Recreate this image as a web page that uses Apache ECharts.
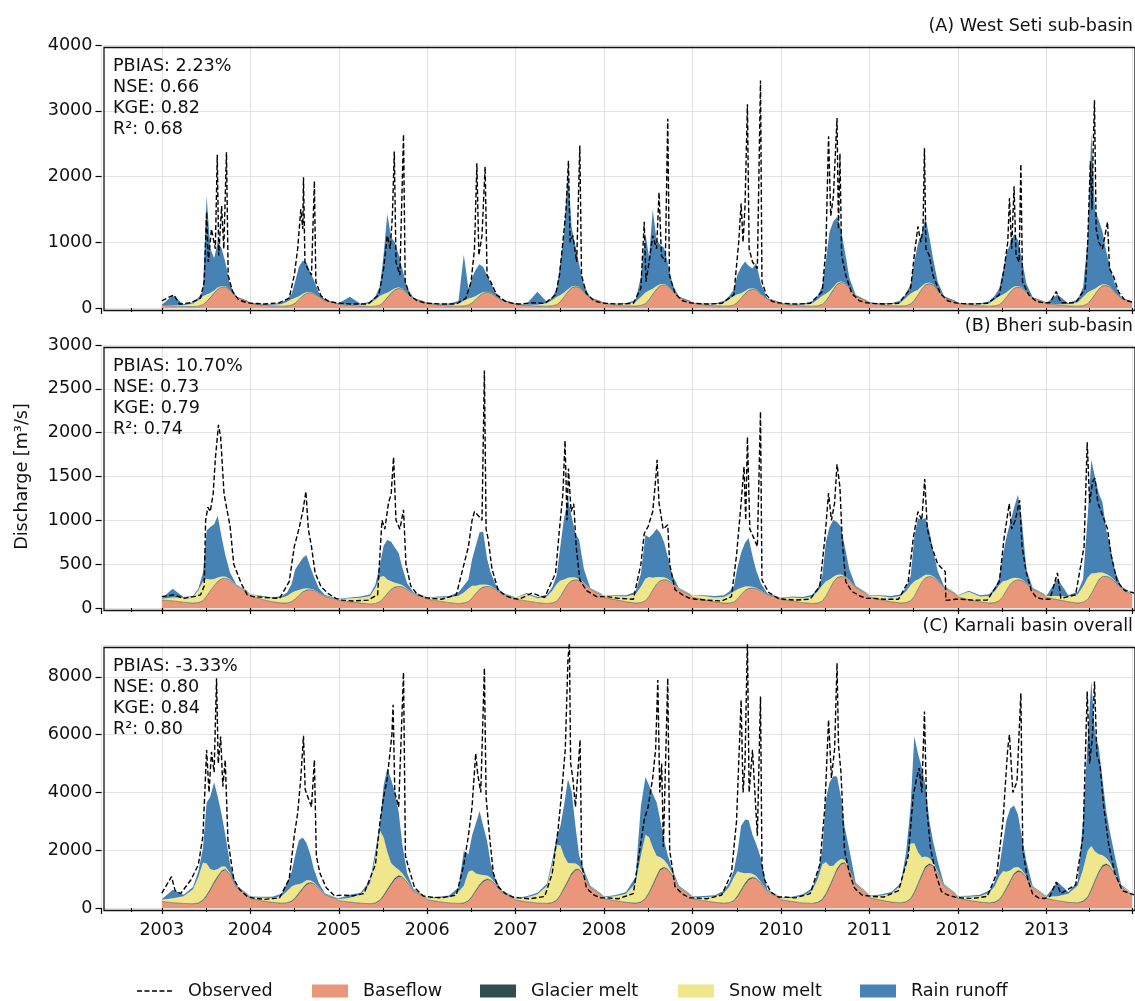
<!DOCTYPE html>
<html>
<head>
<meta charset="utf-8">
<script src="https://cdn.jsdelivr.net/npm/echarts@6/dist/echarts.min.js"></script>
<style>
  html, body { margin: 0; padding: 0; background: #fff; }
  #chart { width: 1135px; height: 1001px; }
</style>
</head>
<body>
<div id="chart"></div>
<script>
// sample dates within each year (components share them so they stack by index)
const YEARS = [2003, 2004, 2005, 2006, 2007, 2008, 2009, 2010, 2011, 2012, 2013];
const GRID_DAYS = ['01-01', '02-15', '04-01', '05-10', '06-01', '06-20', '07-05', '07-20',
    '08-05', '08-20', '09-05', '09-20', '10-10', '11-05', '12-20'];

// ---- (A) West Seti ----
const A_BASE = [
    [40, 30, 22, 20, 25, 45, 90, 150, 220, 280, 315, 320, 270, 160, 100],
    [70, 45, 30, 25, 28, 40, 70, 120, 180, 220, 228, 215, 170, 110, 75],
    [55, 40, 28, 22, 25, 40, 85, 150, 220, 270, 294, 285, 220, 140, 90],
    [65, 45, 30, 25, 28, 40, 70, 120, 180, 220, 233, 225, 180, 115, 75],
    [55, 40, 28, 25, 30, 45, 90, 160, 240, 300, 320, 310, 240, 150, 95],
    [65, 45, 30, 28, 35, 60, 120, 200, 280, 330, 345, 330, 260, 160, 100],
    [70, 48, 32, 26, 28, 40, 80, 140, 210, 260, 279, 270, 210, 135, 90],
    [60, 42, 30, 25, 30, 50, 100, 180, 270, 350, 385, 375, 300, 180, 110],
    [75, 50, 32, 28, 32, 55, 110, 190, 280, 345, 365, 350, 270, 165, 100],
    [70, 48, 32, 26, 30, 45, 90, 160, 240, 295, 314, 305, 240, 150, 95],
    [65, 45, 30, 26, 32, 60, 120, 200, 280, 330, 335, 315, 240, 145, 90]
];
const A_GLACIER = [
    [1, 1, 1, 2, 3, 5, 7, 8, 8, 7, 5, 3, 2, 1, 1],
    [1, 1, 1, 2, 3, 4, 6, 7, 7, 6, 4, 3, 2, 1, 1],
    [1, 1, 1, 2, 3, 5, 7, 8, 8, 7, 5, 3, 2, 1, 1],
    [1, 1, 1, 2, 3, 5, 6, 7, 7, 6, 5, 3, 2, 1, 1],
    [1, 1, 1, 2, 3, 5, 7, 9, 9, 8, 6, 4, 2, 1, 1],
    [1, 1, 1, 2, 4, 6, 8, 9, 9, 8, 6, 4, 2, 1, 1],
    [1, 1, 1, 2, 4, 6, 8, 9, 9, 8, 6, 4, 2, 1, 1],
    [1, 1, 1, 2, 3, 5, 7, 9, 10, 9, 7, 4, 2, 1, 1],
    [1, 1, 1, 2, 3, 5, 7, 9, 9, 8, 6, 4, 2, 1, 1],
    [1, 1, 1, 2, 3, 5, 7, 8, 8, 7, 5, 3, 2, 1, 1],
    [1, 1, 1, 2, 4, 6, 8, 9, 9, 8, 6, 4, 2, 1, 1]
];
const A_SNOW = [
    [5, 10, 20, 45, 90, 130, 110, 70, 40, 25, 15, 10, 5, 3, 3],
    [4, 8, 15, 35, 65, 90, 80, 50, 30, 18, 10, 6, 4, 3, 3],
    [5, 10, 20, 50, 100, 140, 120, 75, 40, 25, 15, 10, 5, 3, 3],
    [4, 8, 18, 40, 80, 100, 85, 55, 30, 18, 10, 6, 4, 3, 3],
    [5, 10, 20, 45, 90, 120, 100, 65, 35, 20, 12, 8, 4, 3, 3],
    [5, 10, 25, 60, 130, 170, 140, 85, 45, 25, 15, 10, 5, 3, 3],
    [5, 10, 20, 50, 100, 140, 120, 75, 40, 25, 15, 10, 5, 3, 3],
    [5, 10, 20, 45, 95, 130, 110, 70, 40, 25, 15, 10, 5, 3, 3],
    [5, 10, 25, 55, 120, 160, 135, 80, 45, 25, 15, 10, 5, 3, 3],
    [5, 10, 20, 45, 95, 130, 110, 70, 40, 25, 15, 10, 5, 3, 3],
    [5, 10, 25, 60, 130, 170, 140, 85, 45, 25, 15, 10, 5, 3, 3]
];
const A_RAIN = [
    [5, 150, 15, 20, 40, 80, 1500, 680, 490, 700, 570, 370, 75, 10, 5],
    [5, 10, 10, 20, 40, 80, 250, 450, 500, 450, 300, 200, 60, 10, 5],
    [10, 120, 15, 20, 50, 150, 600, 1200, 800, 700, 500, 300, 80, 10, 5],
    [5, 10, 20, 40, 700, 150, 300, 400, 450, 380, 250, 150, 50, 10, 5],
    [5, 10, 200, 20, 40, 120, 500, 900, 1800, 900, 600, 350, 100, 10, 5],
    [5, 10, 15, 30, 300, 900, 500, 1200, 700, 600, 550, 350, 90, 10, 5],
    [5, 10, 15, 30, 50, 100, 300, 400, 450, 350, 300, 400, 150, 10, 5],
    [5, 10, 15, 30, 60, 150, 500, 900, 1000, 1000, 800, 500, 150, 15, 5],
    [5, 10, 15, 30, 60, 150, 450, 700, 800, 1000, 700, 400, 120, 10, 5],
    [5, 10, 15, 30, 60, 120, 350, 600, 700, 800, 700, 450, 120, 10, 5],
    [10, 150, 15, 40, 150, 800, 2400, 1200, 1000, 800, 500, 300, 120, 15, 5]
];
const A_OBS = [
    [['01-01', 110], ['02-20', 200], ['03-15', 60], ['05-01', 80], ['06-10', 150], ['06-25', 400], ['07-05', 1460], ['07-12', 700], ['07-25', 1200], ['08-10', 900], ['08-18', 2330], ['08-24', 800], ['09-05', 1550], ['09-14', 900], ['09-25', 2370], ['10-02', 500], ['10-20', 250], ['11-15', 120], ['12-20', 80]],
    [['01-15', 70], ['03-01', 60], ['05-01', 80], ['06-10', 150], ['07-01', 500], ['07-15', 900], ['07-28', 1500], ['08-05', 1200], ['08-08', 1990], ['08-14', 700], ['08-25', 600], ['09-10', 500], ['09-22', 1930], ['09-28', 400], ['10-20', 180], ['11-20', 100], ['12-20', 80]],
    [['01-15', 70], ['03-01', 60], ['05-01', 60], ['06-15', 200], ['07-05', 600], ['07-20', 1100], ['08-01', 900], ['08-10', 1400], ['08-18', 2380], ['08-25', 700], ['09-10', 500], ['09-25', 2640], ['10-02', 400], ['10-20', 200], ['11-20', 110], ['12-20', 80]],
    [['01-15', 70], ['03-01', 60], ['05-01', 60], ['06-10', 150], ['07-01', 400], ['07-15', 900], ['07-25', 2200], ['08-02', 800], ['08-15', 1100], ['08-28', 2150], ['09-05', 500], ['09-20', 400], ['10-15', 200], ['11-20', 100], ['12-20', 70]],
    [['01-15', 60], ['03-10', 80], ['05-01', 70], ['06-15', 200], ['07-01', 500], ['07-15', 1000], ['07-28', 1500], ['08-07', 2240], ['08-14', 1000], ['08-25', 1100], ['09-10', 700], ['09-23', 2470], ['09-30', 500], ['10-20', 220], ['11-20', 110], ['12-20', 80]],
    [['01-15', 70], ['03-01', 60], ['05-01', 70], ['06-01', 300], ['06-15', 1310], ['06-22', 400], ['07-05', 700], ['07-20', 1100], ['08-05', 900], ['08-15', 1760], ['08-25', 800], ['09-10', 700], ['09-20', 2880], ['09-27', 500], ['10-20', 220], ['11-20', 110], ['12-20', 80]],
    [['01-15', 70], ['03-01', 60], ['05-01', 70], ['06-20', 200], ['07-10', 1000], ['07-20', 1590], ['07-28', 1000], ['08-05', 1540], ['08-15', 3100], ['08-22', 900], ['09-05', 700], ['09-25', 600], ['10-08', 3460], ['10-14', 400], ['11-01', 200], ['11-25', 100], ['12-20', 80]],
    [['01-15', 70], ['03-01', 60], ['05-01', 70], ['06-20', 250], ['07-05', 900], ['07-16', 2610], ['07-25', 1400], ['08-05', 1700], ['08-20', 2890], ['08-26', 1200], ['09-01', 2350], ['09-08', 800], ['09-25', 500], ['10-20', 220], ['11-20', 110], ['12-20', 80]],
    [['01-15', 70], ['03-01', 60], ['05-01', 70], ['06-20', 300], ['07-05', 800], ['07-20', 1240], ['08-01', 1000], ['08-10', 1200], ['08-16', 2430], ['08-22', 900], ['09-05', 800], ['09-20', 500], ['10-20', 220], ['11-20', 110], ['12-20', 80]],
    [['01-15', 70], ['03-01', 60], ['05-01', 70], ['06-20', 200], ['07-10', 600], ['07-25', 1000], ['08-01', 1670], ['08-10', 900], ['08-20', 1850], ['08-28', 800], ['09-10', 700], ['09-17', 2190], ['09-24', 400], ['10-20', 200], ['11-20', 100], ['12-20', 80]],
    [['01-15', 80], ['02-10', 250], ['03-01', 80], ['05-01', 80], ['06-10', 300], ['06-20', 1000], ['07-01', 2230], ['07-08', 1500], ['07-12', 2300], ['07-18', 3160], ['07-25', 1200], ['08-05', 1000], ['08-20', 900], ['09-10', 1310], ['09-18', 600], ['10-05', 480], ['10-25', 250], ['11-20', 120], ['12-31', 80]]
];

// ---- (B) Bheri ----
const B_BASE = [
    [90, 80, 65, 55, 60, 80, 130, 190, 250, 300, 330, 338, 320, 250, 180],
    [140, 100, 70, 55, 55, 70, 100, 140, 180, 200, 205, 200, 170, 130, 100],
    [85, 70, 55, 45, 50, 70, 110, 160, 210, 235, 243, 240, 210, 160, 120],
    [100, 80, 60, 50, 55, 70, 110, 160, 210, 235, 243, 240, 210, 160, 120],
    [100, 80, 60, 50, 55, 75, 130, 200, 270, 305, 319, 315, 280, 210, 150],
    [120, 95, 70, 55, 60, 80, 130, 200, 270, 305, 319, 315, 280, 210, 150],
    [120, 95, 70, 55, 55, 65, 100, 150, 195, 220, 224, 220, 190, 150, 115],
    [95, 80, 60, 50, 55, 75, 130, 210, 290, 340, 357, 350, 310, 230, 160],
    [125, 95, 70, 55, 60, 80, 130, 210, 290, 340, 357, 350, 310, 230, 160],
    [125, 95, 70, 55, 60, 80, 130, 200, 270, 305, 319, 315, 280, 210, 150],
    [120, 95, 70, 55, 65, 95, 160, 240, 320, 355, 357, 345, 300, 220, 155]
];
const B_GLACIER = [
    [1, 1, 1, 1, 2, 3, 4, 5, 5, 4, 3, 2, 1, 1, 1],
    [1, 1, 1, 1, 2, 3, 3, 4, 4, 4, 3, 2, 1, 1, 1],
    [1, 1, 1, 1, 2, 3, 4, 5, 5, 4, 3, 2, 1, 1, 1],
    [1, 1, 1, 1, 2, 3, 4, 4, 4, 4, 3, 2, 1, 1, 1],
    [1, 1, 1, 1, 2, 3, 4, 5, 5, 5, 3, 2, 1, 1, 1],
    [1, 1, 1, 1, 2, 3, 4, 5, 5, 5, 4, 2, 1, 1, 1],
    [1, 1, 1, 1, 2, 3, 4, 5, 5, 4, 3, 2, 1, 1, 1],
    [1, 1, 1, 1, 2, 3, 4, 5, 6, 5, 4, 2, 1, 1, 1],
    [1, 1, 1, 1, 2, 3, 4, 5, 5, 5, 3, 2, 1, 1, 1],
    [1, 1, 1, 1, 2, 3, 4, 5, 5, 4, 3, 2, 1, 1, 1],
    [1, 1, 1, 1, 2, 3, 4, 5, 5, 5, 4, 2, 1, 1, 1]
];
const B_SNOW = [
    [15, 40, 50, 70, 140, 220, 200, 130, 75, 45, 25, 18, 10, 8, 10],
    [15, 30, 40, 60, 80, 100, 90, 60, 35, 20, 12, 8, 6, 6, 8],
    [15, 40, 60, 90, 180, 280, 250, 160, 90, 50, 30, 20, 10, 8, 10],
    [15, 40, 60, 90, 120, 150, 140, 90, 50, 30, 18, 12, 8, 6, 8],
    [15, 80, 50, 80, 140, 200, 180, 120, 70, 40, 25, 15, 10, 8, 10],
    [15, 40, 60, 100, 180, 250, 220, 140, 80, 45, 28, 18, 10, 8, 10],
    [15, 40, 50, 70, 100, 120, 110, 75, 45, 25, 15, 10, 8, 6, 8],
    [15, 40, 50, 80, 130, 180, 170, 110, 60, 35, 20, 14, 8, 6, 8],
    [15, 40, 50, 80, 130, 180, 170, 110, 60, 35, 20, 14, 8, 6, 8],
    [15, 90, 60, 80, 130, 180, 170, 110, 60, 35, 20, 14, 8, 6, 8],
    [15, 40, 60, 100, 180, 250, 230, 150, 80, 45, 28, 18, 10, 8, 10]
];
const B_RAIN = [
    [5, 100, 10, 10, 20, 100, 550, 600, 625, 700, 450, 250, 70, 10, 5],
    [5, 10, 10, 20, 40, 100, 250, 300, 350, 380, 250, 150, 50, 10, 5],
    [5, 10, 15, 20, 40, 150, 350, 450, 450, 400, 350, 200, 60, 10, 5],
    [5, 10, 15, 40, 80, 100, 300, 450, 600, 600, 300, 150, 50, 10, 5],
    [5, 10, 15, 20, 40, 100, 400, 700, 900, 700, 500, 450, 150, 10, 5],
    [5, 10, 15, 30, 150, 500, 450, 500, 550, 500, 400, 250, 80, 10, 5],
    [5, 10, 15, 20, 30, 60, 250, 400, 500, 550, 350, 200, 80, 10, 5],
    [5, 10, 15, 20, 40, 100, 450, 600, 650, 600, 550, 350, 120, 15, 5],
    [5, 10, 15, 20, 40, 100, 500, 700, 650, 650, 500, 300, 100, 10, 5],
    [5, 10, 15, 20, 40, 80, 300, 500, 650, 800, 950, 700, 150, 10, 5],
    [5, 200, 15, 30, 80, 700, 1300, 1100, 900, 800, 500, 350, 120, 20, 5]
];
const B_OBS = [
    [['01-01', 130], ['02-20', 150], ['04-01', 110], ['05-15', 130], ['06-10', 150], ['06-25', 250], ['07-01', 1000], ['07-10', 1150], ['07-20', 1100], ['08-01', 1300], ['08-10', 1700], ['08-23', 2090], ['09-01', 1950], ['09-15', 1300], ['10-10', 930], ['10-25', 500], ['11-25', 280], ['12-20', 150]],
    [['01-15', 130], ['03-01', 120], ['05-01', 110], ['06-10', 300], ['07-01', 700], ['07-20', 900], ['08-05', 1100], ['08-18', 1330], ['08-28', 900], ['09-10', 700], ['09-25', 400], ['10-20', 240], ['11-20', 160], ['12-20', 110]],
    [['01-15', 90], ['03-01', 80], ['05-01', 90], ['06-10', 150], ['06-28', 1000], ['07-10', 900], ['07-25', 1200], ['08-05', 1300], ['08-15', 1720], ['08-25', 1000], ['09-10', 900], ['09-25', 1120], ['10-05', 500], ['10-25', 250], ['11-20', 160], ['12-20', 120]],
    [['01-15', 110], ['03-01', 100], ['05-01', 150], ['05-20', 360], ['06-20', 700], ['07-05', 1000], ['07-15', 1100], ['08-01', 1050], ['08-15', 1000], ['08-25', 2710], ['09-01', 900], ['09-10', 780], ['09-25', 450], ['10-20', 210], ['11-20', 140], ['12-20', 110]],
    [['01-15', 100], ['03-10', 170], ['05-01', 120], ['06-15', 400], ['07-01', 900], ['07-15', 1300], ['07-24', 1910], ['08-01', 1000], ['08-07', 1590], ['08-18', 1100], ['08-29', 1190], ['09-08', 700], ['09-23', 320], ['10-20', 200], ['12-01', 130]],
    [['01-15', 130], ['03-01', 110], ['05-01', 100], ['06-01', 500], ['06-15', 850], ['07-01', 930], ['07-20', 1100], ['08-01', 1460], ['08-07', 1690], ['08-15', 1200], ['09-01', 900], ['09-20', 950], ['09-28', 500], ['10-20', 210], ['11-20', 150], ['12-20', 110]],
    [['01-15', 100], ['03-01', 90], ['05-01', 80], ['06-10', 130], ['07-01', 600], ['07-20', 1200], ['08-01', 1610], ['08-08', 1000], ['08-15', 1950], ['08-25', 900], ['09-10', 800], ['09-25', 700], ['10-08', 2240], ['10-14', 320], ['11-10', 180], ['12-20', 110]],
    [['01-15', 100], ['03-01', 90], ['05-01', 100], ['06-10', 250], ['07-01', 800], ['07-16', 1310], ['07-28', 1000], ['08-10', 1200], ['08-20', 1640], ['09-01', 1380], ['09-10', 800], ['09-25', 300], ['10-20', 190], ['11-20', 140], ['12-20', 110]],
    [['01-15', 110], ['03-01', 100], ['05-01', 100], ['06-10', 300], ['07-01', 800], ['07-20', 1100], ['08-05', 1000], ['08-17', 1470], ['08-28', 900], ['09-15', 700], ['10-10', 500], ['11-10', 414], ['11-12', 90], ['11-25', 90], ['12-20', 100]],
    [['01-15', 100], ['03-01', 90], ['05-01', 90], ['06-20', 300], ['07-10', 800], ['07-31', 1190], ['08-10', 900], ['08-25', 1000], ['09-12', 1230], ['09-22', 700], ['10-10', 400], ['10-30', 200], ['11-20', 120], ['12-20', 100]],
    [['01-15', 100], ['02-15', 400], ['03-01', 110], ['05-01', 150], ['06-05', 700], ['06-18', 1890], ['06-28', 1200], ['07-10', 1440], ['07-20', 1480], ['08-01', 1200], ['08-20', 1060], ['09-10', 900], ['09-25', 600], ['10-20', 300], ['11-20', 200], ['12-31', 170]]
];

// ---- (C) Karnali overall ----
const C_BASE = [
    [220, 180, 150, 140, 160, 250, 400, 600, 850, 1050, 1250, 1316, 1150, 700, 450],
    [330, 250, 190, 160, 170, 220, 320, 480, 650, 800, 854, 820, 680, 450, 320],
    [250, 200, 160, 140, 160, 250, 400, 600, 800, 980, 1085, 1060, 880, 580, 380],
    [280, 220, 170, 150, 160, 230, 370, 560, 760, 900, 970, 950, 800, 530, 360],
    [270, 210, 170, 150, 170, 250, 420, 650, 900, 1150, 1300, 1316, 1100, 700, 450],
    [320, 250, 190, 160, 190, 300, 500, 750, 1050, 1300, 1373, 1320, 1100, 700, 450],
    [320, 250, 190, 160, 170, 230, 380, 580, 800, 960, 1027, 1000, 850, 560, 380],
    [280, 220, 170, 150, 180, 270, 450, 700, 1000, 1300, 1500, 1546, 1300, 800, 500],
    [350, 270, 200, 170, 200, 300, 500, 780, 1100, 1380, 1489, 1450, 1200, 750, 480],
    [340, 260, 200, 170, 190, 270, 430, 650, 900, 1150, 1258, 1230, 1050, 680, 440],
    [320, 250, 190, 170, 220, 350, 600, 900, 1200, 1420, 1489, 1420, 1150, 720, 460]
];
const C_GLACIER = [
    [5, 5, 5, 8, 15, 28, 40, 50, 52, 48, 38, 24, 12, 6, 5],
    [5, 5, 5, 7, 12, 22, 32, 40, 42, 38, 30, 20, 10, 6, 5],
    [5, 5, 5, 8, 15, 28, 40, 48, 50, 46, 36, 22, 12, 6, 5],
    [5, 5, 5, 8, 14, 26, 38, 46, 48, 44, 34, 22, 11, 6, 5],
    [5, 5, 5, 8, 16, 30, 42, 52, 55, 50, 40, 25, 12, 6, 5],
    [5, 5, 5, 9, 18, 32, 45, 55, 56, 52, 40, 25, 12, 6, 5],
    [5, 5, 5, 8, 15, 28, 40, 50, 52, 48, 38, 24, 12, 6, 5],
    [5, 5, 5, 9, 17, 31, 44, 55, 58, 54, 42, 26, 12, 6, 5],
    [5, 5, 5, 9, 17, 30, 44, 54, 56, 52, 40, 25, 12, 6, 5],
    [5, 5, 5, 8, 15, 28, 40, 50, 52, 48, 38, 24, 12, 6, 5],
    [5, 5, 5, 9, 18, 32, 45, 55, 56, 52, 40, 25, 12, 6, 5]
];
const C_SNOW = [
    [60, 150, 250, 500, 900, 1300, 1100, 700, 400, 250, 150, 100, 50, 30, 30],
    [40, 100, 150, 250, 400, 500, 450, 300, 180, 120, 80, 50, 30, 20, 20],
    [50, 150, 300, 700, 1600, 2400, 2000, 1300, 700, 400, 200, 120, 60, 30, 30],
    [50, 120, 200, 400, 600, 1000, 900, 600, 350, 200, 120, 80, 40, 30, 30],
    [50, 150, 300, 600, 1300, 1900, 1700, 1100, 600, 350, 200, 120, 60, 30, 30],
    [50, 150, 300, 700, 1600, 2200, 1900, 1300, 700, 400, 250, 150, 70, 30, 30],
    [50, 120, 200, 350, 550, 800, 850, 600, 350, 200, 120, 80, 40, 30, 30],
    [50, 120, 250, 450, 800, 1200, 1100, 700, 400, 250, 150, 100, 50, 30, 30],
    [50, 150, 300, 600, 1300, 1900, 1700, 1100, 600, 350, 200, 120, 60, 30, 30],
    [50, 120, 200, 350, 550, 800, 800, 550, 350, 200, 120, 80, 40, 30, 30],
    [60, 150, 300, 600, 1100, 1600, 1500, 1000, 600, 350, 200, 120, 60, 30, 30]
];
const C_RAIN = [
    [20, 300, 50, 80, 200, 500, 2100, 2500, 3050, 2500, 1800, 1100, 300, 40, 20],
    [20, 30, 40, 80, 300, 500, 1030, 1520, 1570, 1300, 900, 450, 150, 30, 20],
    [30, 100, 60, 100, 200, 250, 1800, 2900, 2900, 2600, 2000, 1000, 260, 40, 20],
    [20, 40, 60, 150, 1200, 600, 1200, 1700, 2200, 1700, 1200, 500, 150, 30, 20],
    [20, 40, 50, 80, 150, 300, 680, 1750, 2900, 2500, 1300, 360, 140, 30, 20],
    [20, 40, 60, 200, 1700, 2000, 1800, 1850, 1850, 1300, 680, 330, 130, 30, 20],
    [20, 40, 50, 80, 150, 250, 670, 1620, 1850, 1840, 1350, 1120, 810, 40, 20],
    [20, 40, 50, 80, 200, 500, 2150, 2900, 3100, 2950, 2150, 1150, 650, 40, 20],
    [20, 40, 50, 80, 400, 1300, 3700, 3420, 3100, 2470, 1310, 730, 340, 40, 20],
    [20, 40, 50, 80, 150, 300, 970, 1800, 2150, 2150, 1820, 1190, 510, 40, 20],
    [30, 500, 60, 150, 1700, 3850, 5700, 4100, 3700, 2630, 1610, 1060, 590, 50, 20]
];
const C_OBS = [
    [['01-01', 510], ['02-10', 1085], ['02-25', 600], ['03-20', 500], ['05-01', 970], ['06-01', 1500], ['06-20', 2500], ['07-05', 5470], ['07-15', 4000], ['07-25', 5400], ['08-05', 4700], ['08-15', 7950], ['08-22', 5000], ['09-01', 5930], ['09-10', 4200], ['09-20', 5120], ['10-01', 2350], ['10-25', 1000], ['11-20', 620], ['12-20', 400]],
    [['01-15', 340], ['03-01', 300], ['05-01', 350], ['06-10', 1000], ['07-01', 2500], ['07-15', 3280], ['07-28', 4500], ['08-08', 5960], ['08-15', 4100], ['08-28', 3800], ['09-10', 3500], ['09-22', 5120], ['09-30', 1800], ['10-15', 1200], ['11-10', 700], ['12-15', 420]],
    [['01-15', 450], ['03-01', 420], ['04-15', 500], ['06-01', 1500], ['06-20', 3000], ['07-05', 3850], ['07-20', 4500], ['08-08', 5990], ['08-13', 7030], ['08-20', 4000], ['09-05', 3500], ['09-25', 8150], ['10-03', 1800], ['10-15', 1430], ['11-10', 700], ['12-15', 420]],
    [['01-15', 380], ['03-01', 350], ['05-01', 450], ['06-01', 1500], ['06-20', 2500], ['07-05', 3500], ['07-20', 5350], ['07-28', 4660], ['08-10', 4000], ['08-25', 8300], ['09-01', 3850], ['09-15', 2500], ['10-01', 1200], ['10-20', 740], ['11-20', 500], ['12-20', 380]],
    [['01-15', 350], ['03-01', 320], ['05-01', 400], ['06-01', 1200], ['06-25', 2700], ['07-10', 4000], ['07-25', 5500], ['08-05', 8590], ['08-11', 9200], ['08-16', 5010], ['08-25', 4500], ['09-05', 3500], ['09-24', 5820], ['10-01', 1500], ['10-20', 700], ['11-20', 450], ['12-20', 350]],
    [['01-15', 350], ['03-01', 320], ['05-01', 500], ['06-05', 2500], ['06-15', 3050], ['07-01', 3500], ['07-20', 4500], ['08-01', 5500], ['08-10', 7890], ['08-18', 4000], ['08-26', 5000], ['09-02', 2120], ['09-20', 7950], ['09-28', 2000], ['10-20', 740], ['11-20', 480], ['12-20', 350]],
    [['01-15', 350], ['03-01', 320], ['05-01', 450], ['06-10', 1200], ['07-01', 3000], ['07-20', 7200], ['07-28', 4000], ['08-05', 5000], ['08-15', 9300], ['08-22', 4000], ['09-05', 5470], ['09-25', 2500], ['10-08', 7320], ['10-14', 1500], ['10-25', 970], ['11-20', 550], ['12-20', 380]],
    [['01-15', 380], ['03-01', 350], ['05-01', 500], ['06-10', 1500], ['07-01', 3500], ['07-16', 6510], ['07-28', 4500], ['08-10', 5500], ['08-20', 8470], ['08-26', 5640], ['09-05', 4720], ['09-20', 2000], ['10-10', 1200], ['11-01', 680], ['12-01', 450]],
    [['01-15', 400], ['03-01', 380], ['05-01', 600], ['06-10', 1800], ['07-01', 3910], ['07-15', 4500], ['07-25', 4840], ['08-05', 4000], ['08-16', 6800], ['08-25', 3500], ['09-10', 2070], ['10-01', 1200], ['10-25', 570], ['11-20', 450], ['12-20', 380]],
    [['01-15', 350], ['03-01', 330], ['05-01', 400], ['06-10', 1200], ['07-05', 3000], ['07-25', 5530], ['08-01', 5990], ['08-15', 4000], ['09-01', 4370], ['09-17', 7430], ['09-25', 2000], ['10-15', 1000], ['11-05', 480], ['12-01', 340], ['12-25', 330]],
    [['01-15', 400], ['02-10', 900], ['03-01', 500], ['05-01', 800], ['06-01', 2500], ['06-18', 7490], ['06-28', 5000], ['07-10', 6000], ['07-18', 7840], ['07-28', 5300], ['08-10', 4950], ['08-25', 3500], ['09-15', 2180], ['10-10', 1200], ['11-10', 600], ['12-31', 450]]
];

const PANEL_TITLES = ['(A) West Seti sub-basin', '(B) Bheri sub-basin', '(C) Karnali basin overall'];
const PANEL_STATS = [
    ['PBIAS: 2.23%', 'NSE: 0.66', 'KGE: 0.82', 'R²: 0.68'],
    ['PBIAS: 10.70%', 'NSE: 0.73', 'KGE: 0.79', 'R²: 0.74'],
    ['PBIAS: -3.33%', 'NSE: 0.80', 'KGE: 0.84', 'R²: 0.80']
];
const Y_MAX = [4000, 3000, 9100];
const Y_STEP = [1000, 500, 2000];
const LEGEND_NAMES = ['Observed', 'Baseflow', 'Glacier melt', 'Snow melt', 'Rain runoff'];

const FONT = 'DejaVu Sans';
const FS = 17.6;
const COLORS = { base: '#E9967A', glacier: '#2F4F4F', snow: '#F0E68C', rain: '#4682B4' };
const GRID_TOP = [45, 345, 645];
const GRID_H = 263;
const GRID_LEFT = 101.5;
const GRID_W = 1031;
// dashed line icon for "Observed" (tiny corner squares keep the box 37x13)
const DASH_ICON = 'path://M0,0h0.01v0.01h-0.01z M35,13h0.01v0.01h-0.01z ' +
    'M0,5.8h5v1.5h-5z M7.5,5.8h5v1.5h-5z M15,5.8h5v1.5h-5z M22.5,5.8h5v1.5h-5z M30,5.8h5v1.5h-5z';
const LEGEND_LEFT = [137, 312, 480, 678, 860];

const toSeries = (rows) => {
    const out = [];
    rows.forEach((row, i) => {
        row.forEach((v, j) => out.push([YEARS[i] + '-' + GRID_DAYS[j], v]));
    });
    return out;
};
const toObs = (rows) => {
    const out = [];
    rows.forEach((row, i) => {
        row.forEach((p) => out.push([YEARS[i] + '-' + p[0], p[1]]));
    });
    return out;
};

const panels = [
    { base: A_BASE, glacier: A_GLACIER, snow: A_SNOW, rain: A_RAIN, obs: A_OBS },
    { base: B_BASE, glacier: B_GLACIER, snow: B_SNOW, rain: B_RAIN, obs: B_OBS },
    { base: C_BASE, glacier: C_GLACIER, snow: C_SNOW, rain: C_RAIN, obs: C_OBS }
];

const grids = [], xAxes = [], yAxes = [], series = [], titles = [], graphics = [];

panels.forEach((p, i) => {
    grids.push({ left: GRID_LEFT, top: GRID_TOP[i], width: GRID_W, height: GRID_H });
    xAxes.push({
        type: 'time',
        gridIndex: i,
        min: '2002-04-27',
        max: '2013-12-22',
        minInterval: 365 * 86400000,
        maxInterval: 366 * 86400000,
        axisLine: { show: false },
        axisTick: { show: true, length: 6, lineStyle: { color: '#000', width: 1.2 } },
        minorTick: { show: true, splitNumber: 2, length: 4, lineStyle: { color: '#000', width: 1 } },
        axisLabel: {
            show: i === 2,
            formatter: '{yyyy}',
            fontSize: FS,
            fontFamily: FONT,
            color: '#111',
            margin: 13
        },
        splitLine: { show: true, lineStyle: { color: '#e2e2e2', width: 1 } }
    });
    yAxes.push({
        type: 'value',
        gridIndex: i,
        min: 0,
        max: Y_MAX[i],
        interval: Y_STEP[i],
        axisLine: { show: false },
        axisTick: { show: true, length: 6, lineStyle: { color: '#000', width: 1.2 } },
        axisLabel: {
            fontSize: FS, fontFamily: FONT, color: '#111', margin: 9,
            showMaxLabel: i !== 2,
            formatter: (v) => String(v)
        },
        splitLine: { show: true, lineStyle: { color: '#e2e2e2', width: 1 } },
        name: i === 1 ? 'Discharge [m³/s]' : '',
        nameLocation: 'middle',
        nameGap: 70,
        nameTextStyle: { fontSize: FS, fontFamily: FONT, color: '#111' }
    });

    const area = (name, rows, color, lw) => ({
        name,
        type: 'line',
        xAxisIndex: i,
        yAxisIndex: i,
        stack: 'flow' + i,
        symbol: 'none',
        showSymbol: false,
        data: toSeries(rows),
        itemStyle: { color },
        lineStyle: { width: lw, color, opacity: lw ? 0.7 : 0 },
        areaStyle: { color, opacity: 1 },
        z: 2
    });
    series.push(area('Baseflow', p.base, COLORS.base, 0));
    series.push(area('Glacier melt', p.glacier, COLORS.glacier, 0.7));
    series.push(area('Snow melt', p.snow, COLORS.snow, 0));
    series.push(area('Rain runoff', p.rain, COLORS.rain, 0));
    series.push({
        name: 'Observed',
        type: 'line',
        xAxisIndex: i,
        yAxisIndex: i,
        symbol: 'none',
        showSymbol: false,
        data: toObs(p.obs),
        itemStyle: { color: '#000' },
        lineStyle: { color: '#000', width: 1.4, type: [5, 2.5] },
        z: 5
    });

    titles.push({
        text: PANEL_TITLES[i],
        right: 2,
        top: GRID_TOP[i] - 28,
        padding: 0,
        textStyle: { fontSize: FS, fontWeight: 'normal', fontFamily: FONT, color: '#111' }
    });
    graphics.push({
        type: 'text',
        left: 113,
        top: GRID_TOP[i] + 11,
        z: 10,
        style: {
            text: PANEL_STATS[i].join('\n'),
            fontSize: FS,
            fontFamily: FONT,
            lineHeight: 21,
            fill: '#111'
        }
    });
    // panel frame drawn above the areas
    graphics.push({
        type: 'rect',
        left: GRID_LEFT,
        top: GRID_TOP[i],
        z: 20,
        silent: true,
        shape: { width: GRID_W, height: GRID_H },
        style: { fill: 'none', stroke: '#111', lineWidth: 1.3 }
    });
});

const legends = LEGEND_NAMES.map((name, k) => ({
    left: LEGEND_LEFT[k],
    top: 982,
    padding: 0,
    itemWidth: k === 0 ? 37 : 36,
    itemHeight: 13,
    itemStyle: { borderWidth: 0 },
    textStyle: { fontSize: FS, fontFamily: FONT, color: '#111', padding: [0, 0, 0, 10] },
    data: [{ name, icon: k === 0 ? DASH_ICON : 'rect' }]
}));

const chart = echarts.init(document.getElementById('chart'), null, { renderer: 'canvas' });
chart.setOption({
    animation: false,
    backgroundColor: '#fff',
    title: titles,
    grid: grids,
    xAxis: xAxes,
    yAxis: yAxes,
    series,
    graphic: graphics,
    legend: legends
});
</script>
</body>
</html>
